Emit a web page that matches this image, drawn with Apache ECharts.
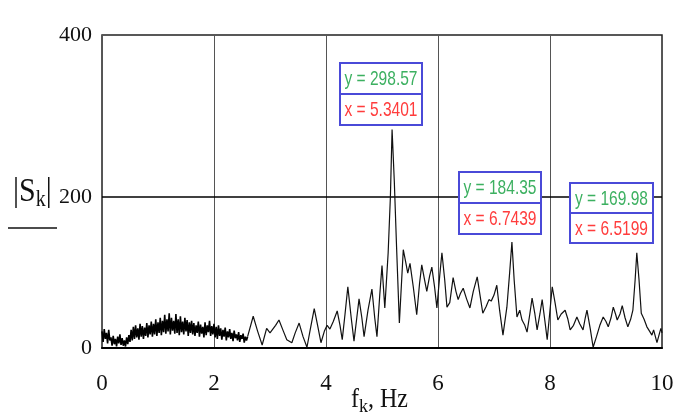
<!DOCTYPE html>
<html>
<head>
<meta charset="utf-8">
<script src="https://cdn.jsdelivr.net/npm/echarts@6/dist/echarts.min.js"></script>
<style>
html,body{margin:0;padding:0;background:#fff;}
#chart{width:684px;height:418px;}
</style>
</head>
<body>
<div id="chart"></div>
<script>
// ---- data ----
// dense low-frequency noise, uniformly sampled from 0 Hz
const noiseStart = 0;
const noiseStep = 0.02;
const noiseValues = [
  22, 8, 25, 12, 20, 6, 24, 10,
  14, 3, 16, 5, 12, 2, 15, 6, 18, 4, 13, 3, 10, 2, 14, 5, 17, 8,
  24, 10, 28, 12, 30, 14, 26, 11, 32, 15, 29, 12, 27, 16, 33, 14, 30, 18, 35, 15,
  32, 18, 38, 16, 34, 20, 40, 17, 36, 21, 44, 19, 38, 22, 46, 18, 40, 23, 36, 19,
  45, 20, 38, 17, 42, 21, 35, 18, 40, 22, 37, 16, 34, 20, 36,
  18, 33, 16, 30, 20, 35, 15, 31, 19, 28, 14, 34, 17, 30, 21, 36, 16, 29, 18, 32,
  14, 28, 12, 30, 16, 26, 11, 24, 15, 27, 10, 22, 14, 25, 12, 20, 9, 23, 13, 18,
  10, 21, 8, 17, 12, 19, 7, 15, 10
];
// smoother part of the spectrum
const freqHz = [
  2.60, 2.70, 2.78, 2.86, 2.94, 3.00, 3.10, 3.16, 3.24, 3.30, 3.39, 3.45, 3.52, 3.59, 3.66, 3.72,
  3.79, 3.85, 3.91, 3.97, 4.02, 4.07, 4.13, 4.20, 4.25, 4.29, 4.34, 4.39, 4.45, 4.50, 4.55, 4.59,
  4.64, 4.68, 4.75, 4.82, 4.87, 4.91, 4.96, 5.00, 5.05, 5.11, 5.15, 5.18, 5.22, 5.26, 5.31, 5.38,
  5.42, 5.46, 5.50, 5.56, 5.62, 5.67, 5.71, 5.76, 5.80, 5.85, 5.89, 5.94, 5.98, 6.03, 6.07, 6.12,
  6.16, 6.21, 6.27, 6.32, 6.36, 6.40, 6.45, 6.51, 6.57, 6.63, 6.70, 6.75, 6.80, 6.86, 6.91, 6.95,
  7.00, 7.05, 7.10, 7.16, 7.23, 7.28, 7.32, 7.36, 7.41, 7.46, 7.50, 7.55, 7.59, 7.64, 7.68, 7.73,
  7.77, 7.82, 7.86, 7.91, 7.95, 8.00, 8.04, 8.09, 8.14, 8.20, 8.27, 8.32, 8.36, 8.42, 8.48, 8.53,
  8.59, 8.63, 8.66, 8.72, 8.77, 8.83, 8.89, 8.95, 9.00, 9.04, 9.09, 9.13, 9.17, 9.20, 9.25, 9.29,
  9.34, 9.39, 9.44, 9.48, 9.52, 9.55, 9.59, 9.63, 9.68, 9.73, 9.78, 9.82, 9.85, 9.88, 9.91, 9.95,
  9.98, 10.0
];
const magnitude = [
  15, 42, 22, 4, 26, 20, 30, 37, 22, 11, 7, 20, 33, 15, 1, 25,
  52, 30, 7, 22, 30, 25, 35, 49, 30, 11, 45, 81, 40, 9, 40, 65,
  40, 15, 50, 78, 40, 15, 70, 109, 53, 126, 200, 289, 220, 134, 33, 130,
  115, 99, 112, 80, 44, 85, 110, 90, 75, 95, 107, 80, 53, 95, 126, 90,
  54, 60, 93, 75, 64, 72, 79, 65, 53, 75, 94, 70, 46, 55, 64, 62,
  70, 83, 50, 17, 54, 100, 140, 90, 41, 50, 37, 30, 21, 45, 66, 45,
  24, 45, 64, 35, 11, 50, 81, 60, 37, 45, 50, 38, 24, 30, 41, 32,
  24, 40, 50, 25, 1, 15, 30, 41, 35, 28, 40, 54, 45, 37, 45, 56,
  40, 28, 38, 50, 90, 126, 90, 46, 38, 28, 22, 17, 24, 26, 7, 18,
  26, 20
];
const xTickStep = 2;
const yTickValues = [0, 200, 414];
const yTickLabels = ['0', '200', '400'];
const gridLineY = 200;
const annotationY = ['y = 298.57', 'y = 184.35', 'y = 169.98'];
const annotationX = ['x = 5.3401', 'x = 6.7439', 'x = 6.5199'];

// ---- layout (not data) ----
const boxLayout = [
  {left: 340, top: 63, w: 82, h: 31},
  {left: 459, top: 172, w: 82, h: 31},
  {left: 570, top: 183, w: 83, h: 30}
];

const noiseData = noiseValues.map((v, i) => [+(noiseStart + i * noiseStep).toFixed(2), v]);
noiseData.push([freqHz[0], magnitude[0]]);
const smoothData = freqHz.map((f, i) => [f, magnitude[i]]);

const serif = 'Liberation Serif';
const graphics = [];
boxLayout.forEach((b, i) => {
  graphics.push({type: 'rect', zlevel: 2, z: 100, silent: true, shape: {x: b.left, y: b.top, width: b.w, height: b.h},
    style: {fill: '#fff', stroke: '#4a4ad8', lineWidth: 2}});
  graphics.push({type: 'rect', zlevel: 2, z: 100, silent: true, shape: {x: b.left, y: b.top + b.h, width: b.w, height: b.h},
    style: {fill: '#fff', stroke: '#4a4ad8', lineWidth: 2}});
  graphics.push({type: 'text', zlevel: 2, z: 101, silent: true, x: b.left + b.w / 2, y: b.top + b.h / 2 + 1, scaleX: 0.74,
    style: {text: annotationY[i], fill: '#3cb060', font: '21px "Liberation Sans"',
      align: 'center', verticalAlign: 'middle'}});
  graphics.push({type: 'text', zlevel: 2, z: 101, silent: true, x: b.left + b.w / 2, y: b.top + b.h * 1.5 + 1, scaleX: 0.74,
    style: {text: annotationX[i], fill: '#ff3c3c', font: '21px "Liberation Sans"',
      align: 'center', verticalAlign: 'middle'}});
});
// y-axis title |S_k| with underline
graphics.push({
  type: 'text', x: 13, y: 172, z: 50, scaleY: 1.15,
  style: {
    text: '{n||S}{s|k}{n||}',
    rich: {
      n: {fontFamily: serif, fontSize: 30, fill: '#111'},
      s: {fontFamily: serif, fontSize: 20, fill: '#111', verticalAlign: 'bottom', padding: [14, 0, 0, 0]}
    }
  }
});
graphics.push({
  type: 'line', z: 50,
  shape: {x1: 8, y1: 228, x2: 57, y2: 228},
  style: {stroke: '#111', lineWidth: 1.5}
});
// x-axis title f_k, Hz
graphics.push({
  type: 'text', x: 351, y: 384, z: 50, scaleY: 1.1,
  style: {
    text: '{n|f}{s|k}{n|, Hz}',
    rich: {
      n: {fontFamily: serif, fontSize: 24, fill: '#111'},
      s: {fontFamily: serif, fontSize: 18, fill: '#111', verticalAlign: 'bottom', padding: [12, 0, 0, 0]}
    }
  }
});

const chart = echarts.init(document.getElementById('chart'), null, {renderer: 'canvas'});
chart.setOption({
  animation: false,
  backgroundColor: '#fff',
  grid: {left: 102, top: 35, right: 22, bottom: 70, show: true, borderColor: '#222', borderWidth: 1.5},
  xAxis: {
    type: 'value', min: 0, max: 10, interval: xTickStep,
    axisLine: {show: true, onZero: false, lineStyle: {color: '#000', width: 2}},
    axisTick: {show: false},
    splitLine: {show: true, lineStyle: {color: '#555', width: 1}},
    axisLabel: {fontFamily: serif, fontSize: 23, color: '#111', margin: 24}
  },
  yAxis: {
    type: 'value', min: 0, max: 414,
    axisLine: {show: false},
    axisTick: {show: false},
    splitLine: {show: false},
    axisLabel: {
      customValues: yTickValues,
      fontFamily: serif, fontSize: 22, color: '#111', margin: 10,
      formatter: (v) => {
        const idx = yTickValues.indexOf(v);
        return idx >= 0 ? yTickLabels[idx] : '';
      }
    }
  },
  series: [{
    type: 'line',
    data: noiseData,
    showSymbol: false,
    symbol: 'none',
    z: 3,
    lineStyle: {color: '#000', width: 1.6}
  }, {
    type: 'line',
    data: smoothData,
    showSymbol: false,
    symbol: 'none',
    z: 3,
    lineStyle: {color: '#111', width: 1.2},
    markLine: {
      silent: true, symbol: 'none', animation: false, z: 2,
      label: {show: false},
      lineStyle: {color: '#000', width: 1.5, type: 'solid'},
      data: [{yAxis: gridLineY}]
    }
  }],
  graphic: graphics
});
</script>
</body>
</html>
